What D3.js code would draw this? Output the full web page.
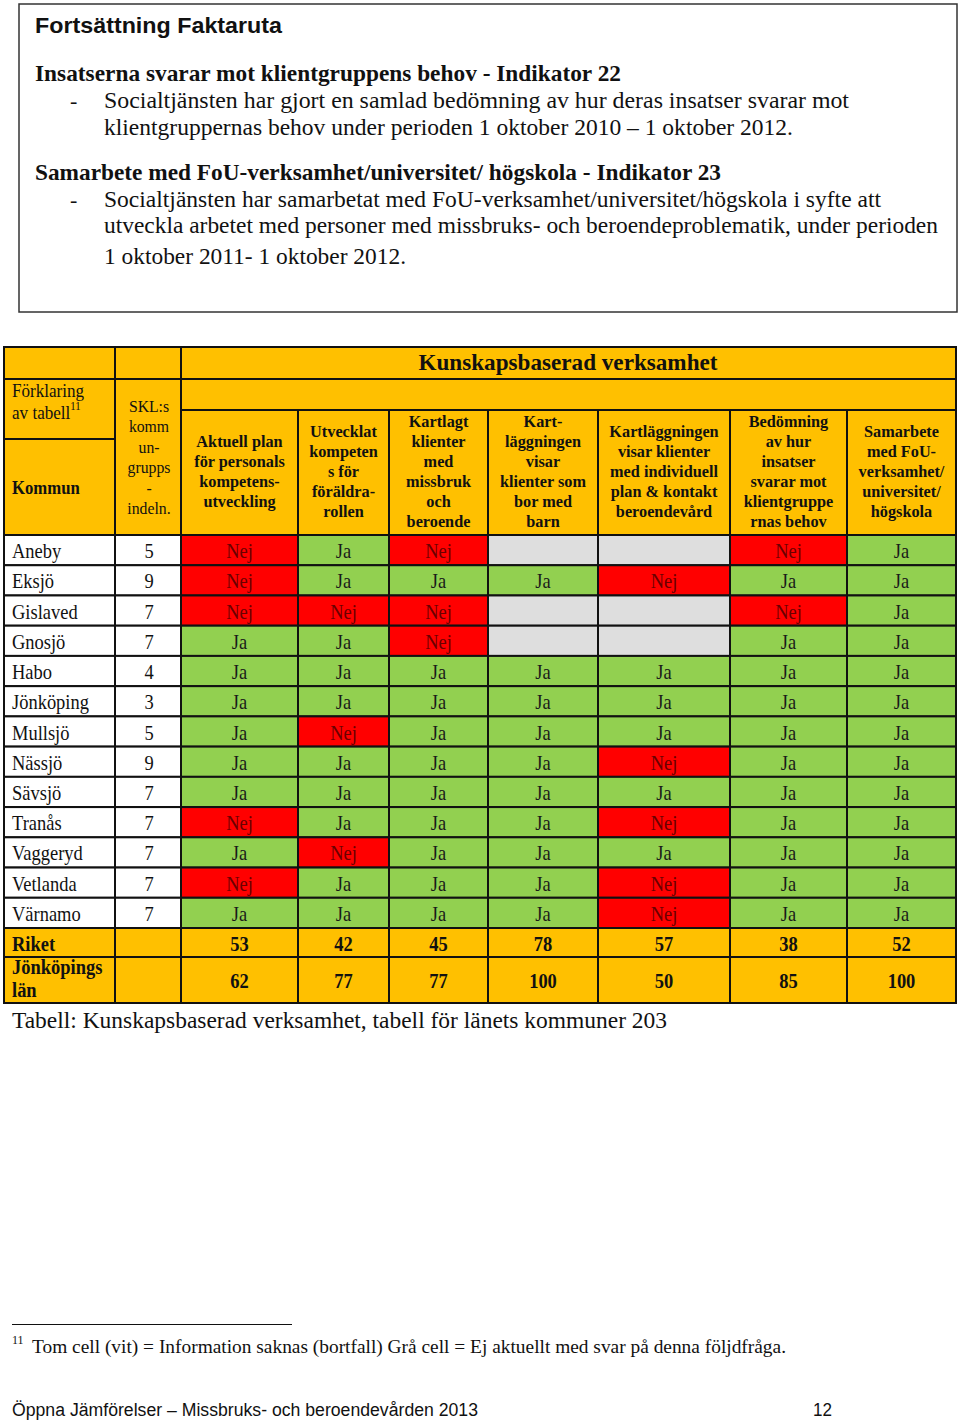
<!DOCTYPE html>
<html><head><meta charset="utf-8">
<script src="https://cdn.jsdelivr.net/npm/d3@7/dist/d3.min.js"></script>
<style>body{margin:0;background:#fff} svg{display:block}</style>
</head><body><svg id="c" width="960" height="1422"></svg>
<script>
// ---------- DATA ----------
const kommuner = ["Aneby","Eksjö","Gislaved","Gnosjö","Habo","Jönköping","Mullsjö","Nässjö","Sävsjö","Tranås","Vaggeryd","Vetlanda","Värnamo"];
const sklGrupp = [5,9,7,7,4,3,5,9,7,7,7,7,7];
// "EA" = grå cell (ej aktuellt)
const aktuellPlan        = ["Nej","Nej","Nej","Ja","Ja","Ja","Ja","Ja","Ja","Nej","Ja","Nej","Ja"];
const utvecklatKompetens = ["Ja","Ja","Nej","Ja","Ja","Ja","Nej","Ja","Ja","Ja","Nej","Ja","Ja"];
const kartlagtKlienter   = ["Nej","Ja","Nej","Nej","Ja","Ja","Ja","Ja","Ja","Ja","Ja","Ja","Ja"];
const kartlaggningBarn   = ["EA","Ja","EA","EA","Ja","Ja","Ja","Ja","Ja","Ja","Ja","Ja","Ja"];
const kartlaggningPlan   = ["EA","Nej","EA","EA","Ja","Ja","Ja","Nej","Ja","Nej","Ja","Nej","Nej"];
const bedomningInsatser  = ["Nej","Ja","Nej","Ja","Ja","Ja","Ja","Ja","Ja","Ja","Ja","Ja","Ja"];
const samarbeteFoU       = ["Ja","Ja","Ja","Ja","Ja","Ja","Ja","Ja","Ja","Ja","Ja","Ja","Ja"];
const riket = [53,42,45,78,57,38,52];
const jonkopingsLan = [62,77,77,100,50,85,100];
const kolumnRubriker = [
  ["Aktuell plan","för personals","kompetens-","utveckling"],
  ["Utvecklat","kompeten","s för","föräldra-","rollen"],
  ["Kartlagt","klienter","med","missbruk","och","beroende"],
  ["Kart-","läggningen","visar","klienter som","bor med","barn"],
  ["Kartläggningen","visar klienter","med individuell","plan & kontakt","beroendevård"],
  ["Bedömning","av hur","insatser","svarar mot","klientgruppe","rnas behov"],
  ["Samarbete","med FoU-","verksamhet/","universitet/","högskola"]
];
const kolumner = [aktuellPlan, utvecklatKompetens, kartlagtKlienter, kartlaggningBarn, kartlaggningPlan, bedomningInsatser, samarbeteFoU];

// ---------- LAYOUT ----------
const svg = d3.select("#c");
const SERIF = "'Liberation Serif','Times New Roman',serif";
const SANS = "'Liberation Sans',Arial,sans-serif";
svg.append("rect").attr("width",960).attr("height",1422).attr("fill","#fff");

function txt(x,y,s,opt={}){
  const sx = opt.sx||1;
  const t = svg.append("text").text(s)
    .attr("font-family",opt.family||SERIF).attr("font-size",opt.size||20)
    .attr("font-weight",opt.bold?"bold":"normal").attr("fill",opt.fill||"#111")
    .attr("text-anchor",opt.anchor||"start");
  if(sx!==1){ t.attr("x",0).attr("y",0).attr("transform",`translate(${x},${y}) scale(${sx},1)`); }
  else { t.attr("x",x).attr("y",y); }
  if(opt.len){ t.attr("textLength",opt.len).attr("lengthAdjust",opt.adj||"spacing"); }
  return t;
}

// Fact box
svg.append("rect").attr("x",19).attr("y",4).attr("width",938).attr("height",308)
  .attr("fill","none").attr("stroke","#333").attr("stroke-width",1.5);
txt(35,33,"Fortsättning Faktaruta",{family:SANS,bold:true,size:22,len:247,adj:"spacingAndGlyphs"});
txt(35,81,"Insatserna svarar mot klientgruppens  behov - Indikator 22",{bold:true,size:22.5,len:586,adj:"spacingAndGlyphs"});
txt(70,108,"-",{size:22});
txt(104,108,"Socialtjänsten har gjort en samlad bedömning av hur deras insatser svarar mot",{size:22.5,len:745,adj:"spacingAndGlyphs"});
txt(104,135,"klientgruppernas behov under perioden 1 oktober 2010 – 1 oktober 2012.",{size:22.5,len:689,adj:"spacingAndGlyphs"});
txt(35,180,"Samarbete  med FoU-verksamhet/universitet/  högskola - Indikator 23",{bold:true,size:22.5,len:686,adj:"spacingAndGlyphs"});
txt(70,207,"-",{size:22});
txt(104,207,"Socialtjänsten har samarbetat med FoU-verksamhet/universitet/högskola i syfte att",{size:22.5,len:777,adj:"spacingAndGlyphs"});
txt(104,233,"utveckla arbetet med personer med missbruks- och beroendeproblematik, under perioden",{size:22.5,len:834,adj:"spacingAndGlyphs"});
txt(104,264,"1 oktober 2011- 1 oktober 2012.",{size:22.5,len:302,adj:"spacingAndGlyphs"});

// Table scales
const ORANGE="#FFC000", GREEN="#92D050", RED="#FF0000", GRAY="#DEDEDE";
const colEdges = [181,298,389,488,598,730,847,956];
const xCol = d3.scaleOrdinal().domain(d3.range(7)).range(colEdges.slice(0,7));
const wCol = d3.scaleOrdinal().domain(d3.range(7)).range(d3.range(7).map(i=>colEdges[i+1]-colEdges[i]));
const yRow = d3.scaleBand().domain(kommuner).range([535,928]);
const fill = d3.scaleOrdinal().domain(["Ja","Nej","EA"]).range([GREEN,RED,GRAY]);
const textFill = d3.scaleOrdinal().domain(["Ja","Nej","EA"]).range(["#1a1a1a","#6a0000","#000"]);

const g = svg.append("g");
function cell(x0,y0,x1,y1,f){
  g.append("rect").attr("x",x0).attr("y",y0).attr("width",x1-x0).attr("height",y1-y0)
   .attr("fill",f).attr("stroke","#111").attr("stroke-width",2);
}
// Header cells
cell(4,347,115,379,ORANGE); cell(115,347,181,379,ORANGE); cell(181,347,956,379,ORANGE);
cell(4,379,115,439,ORANGE); cell(4,439,115,535,ORANGE); cell(115,379,181,535,ORANGE);
cell(181,379,956,410,ORANGE);
d3.range(7).forEach(i=>cell(xCol(i),410,xCol(i)+wCol(i),535,ORANGE));

// Body cells
kommuner.forEach((k,r)=>{
  const y0=yRow(k), y1=y0+yRow.bandwidth();
  cell(4,y0,115,y1,"#fff"); cell(115,y0,181,y1,"#fff");
  kolumner.forEach((col,i)=>cell(xCol(i),y0,xCol(i)+wCol(i),y1,fill(col[r])));
});
const sumRows = [{vals:riket,y0:928,y1:957},{vals:jonkopingsLan,y0:957,y1:1003}];
sumRows.forEach(s=>{
  cell(4,s.y0,115,s.y1,ORANGE); cell(115,s.y0,181,s.y1,ORANGE);
  s.vals.forEach((v,i)=>cell(xCol(i),s.y0,xCol(i)+wCol(i),s.y1,ORANGE));
});

// Header texts
txt(568,370,"Kunskapsbaserad  verksamhet",{bold:true,size:23,anchor:"middle",len:299,adj:"spacingAndGlyphs"});
txt(12,397,"Förklaring",{size:19,sx:0.9});
const avt = txt(12,419,"av tabell",{size:19,sx:0.9});
avt.append("tspan").attr("font-size",12).attr("dy",-9).text("11");
txt(12,494,"Kommun",{bold:true,size:19,sx:0.88});
["SKL:s","komm","un-","grupps","-","indeln."].forEach((s,j)=>txt(149,412+j*20.4,s,{size:17.5,anchor:"middle",sx:0.9}));
kolumnRubriker.forEach((lines,i)=>{
  const cx = xCol(i)+wCol(i)/2, n=lines.length;
  lines.forEach((s,j)=>txt(cx,477+(j-(n-1)/2)*20,s,{bold:true,size:17.5,anchor:"middle",sx:0.93}));
});

// Body texts
kommuner.forEach((k,r)=>{
  const yb = yRow(k)+yRow.bandwidth()/2+8;
  txt(12,yb,k,{size:21,sx:0.88});
  txt(149,yb,sklGrupp[r],{size:21,anchor:"middle",sx:0.88});
  kolumner.forEach((col,i)=>{
    if(col[r]!=="EA") txt(xCol(i)+wCol(i)/2,yb,col[r],{size:21,anchor:"middle",sx:0.88,fill:textFill(col[r])});
  });
});
txt(12,951,"Riket",{bold:true,size:21,sx:0.88});
riket.forEach((v,i)=>txt(xCol(i)+wCol(i)/2,951,v,{bold:true,size:21,anchor:"middle",sx:0.88}));
txt(12,974,"Jönköpings",{bold:true,size:21,sx:0.88});
txt(12,997,"län",{bold:true,size:21,sx:0.88});
jonkopingsLan.forEach((v,i)=>txt(xCol(i)+wCol(i)/2,988,v,{bold:true,size:21,anchor:"middle",sx:0.88}));

txt(12,1028,"Tabell:  Kunskapsbaserad verksamhet, tabell för länets kommuner 203",{size:23,len:655,adj:"spacingAndGlyphs"});

// Footnote
svg.append("line").attr("x1",12).attr("x2",292).attr("y1",1324.5).attr("y2",1324.5).attr("stroke","#111").attr("stroke-width",1.2);
txt(12,1344,"11",{size:12});
txt(32,1353,"Tom cell (vit) = Information  saknas (bortfall) Grå  cell = Ej aktuellt med  svar på denna följdfråga.",{size:19,len:754,adj:"spacingAndGlyphs"});
txt(12,1416,"Öppna Jämförelser – Missbruks- och beroendevården 2013",{family:SANS,size:18,len:466,adj:"spacingAndGlyphs"});
txt(813,1416,"12",{family:SANS,size:18,len:19,adj:"spacingAndGlyphs"});
</script></body></html>
